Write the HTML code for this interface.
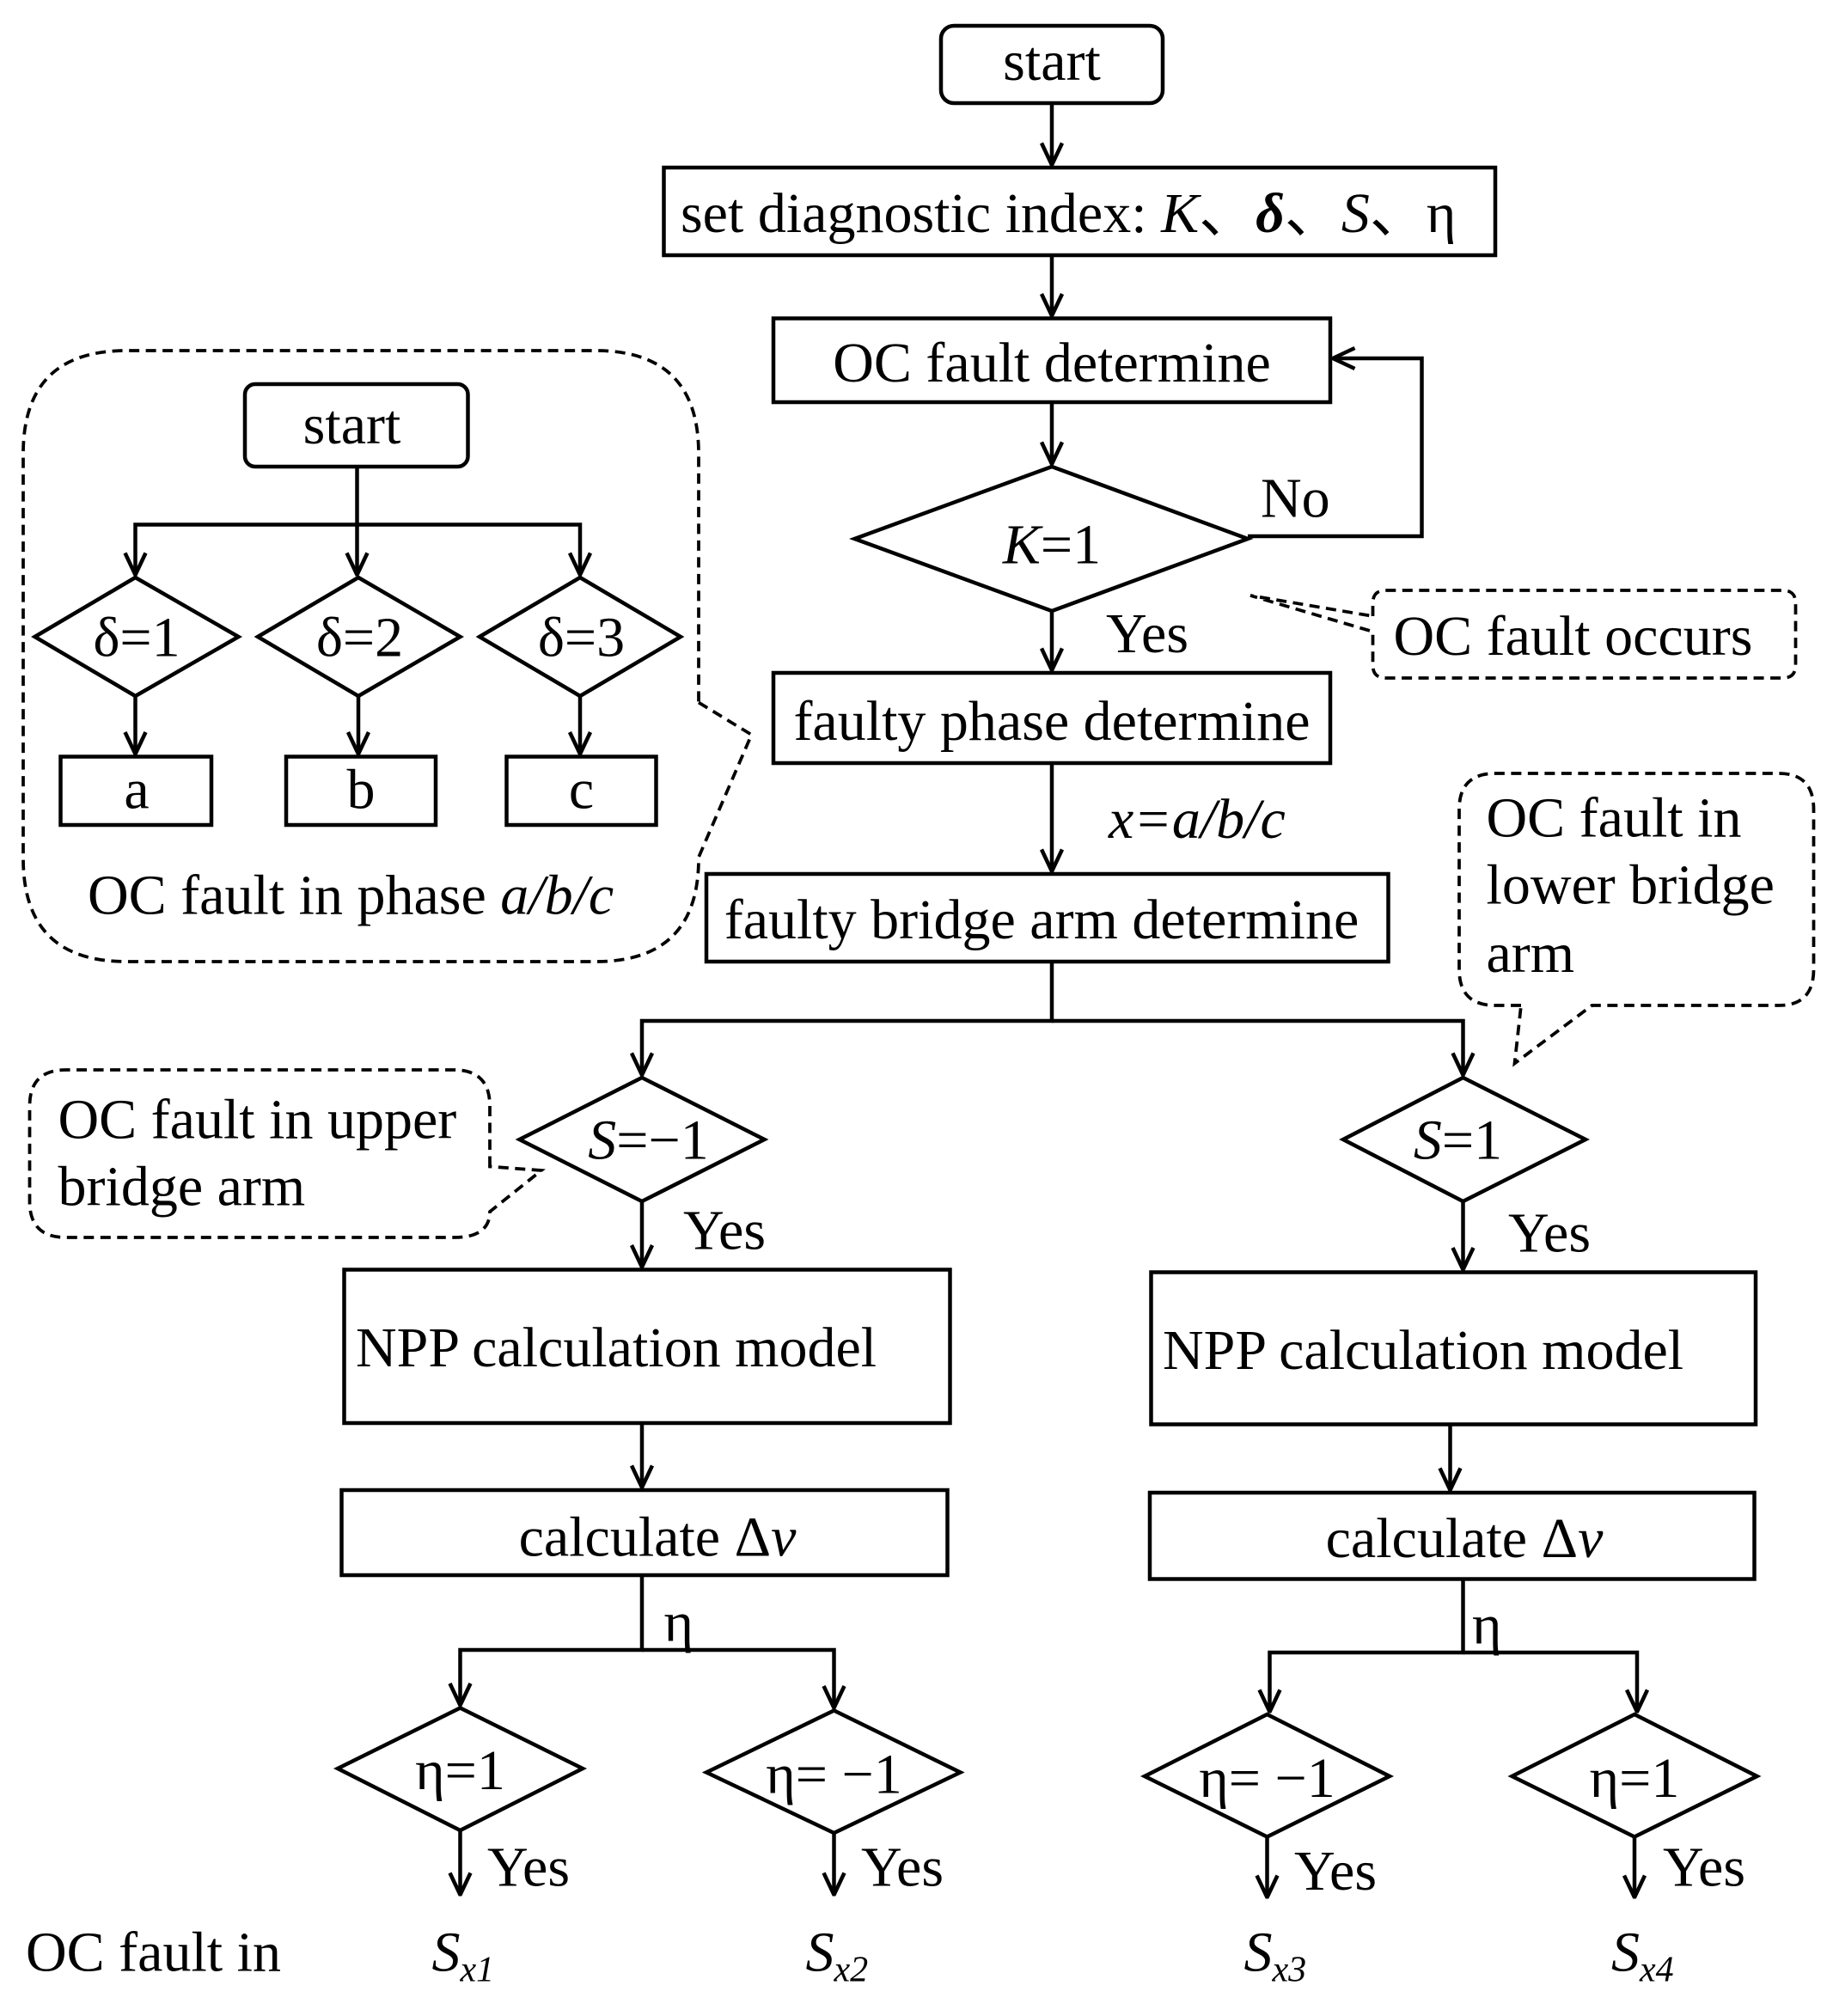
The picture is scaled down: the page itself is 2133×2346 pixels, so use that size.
<!DOCTYPE html>
<html><head><meta charset="utf-8"><style>html,body{margin:0;padding:0;background:#fff}svg{display:block}</style></head>
<body>
<svg width="2133" height="2346" viewBox="0 0 1422 1564" xmlns="http://www.w3.org/2000/svg" font-family="Liberation Serif, serif" font-size="44" fill="none" stroke="#000" stroke-width="3">
<defs>
<marker id="a" viewBox="0 0 20 20" refX="19" refY="10" markerWidth="20" markerHeight="20" markerUnits="userSpaceOnUse" orient="auto">
<path d="M2,2 L19,10 L2,18" fill="none" stroke="#000" stroke-width="3"/>
</marker>
</defs>
<g>
<rect x="730" y="20" width="172" height="60" rx="10"/>
<rect x="515" y="130" width="645" height="68"/>
<rect x="600" y="247" width="432" height="65"/>
<polygon points="663,418 816,362 968,418 816,474"/>
<rect x="600" y="522" width="432" height="70"/>
<rect x="548" y="678" width="529" height="68"/>
<polygon points="403,884 498,836 593,884 498,932"/>
<polygon points="1042,884 1135,836 1230,884 1135,932"/>
<rect x="267" y="985" width="470" height="119"/>
<rect x="893" y="987" width="469" height="118"/>
<rect x="265" y="1156" width="470" height="66"/>
<rect x="892" y="1158" width="469" height="67"/>
<polygon points="262,1372 357,1325 452,1372 357,1420"/>
<polygon points="548,1375 647,1327 745,1375 647,1422"/>
<polygon points="888,1378 983,1330 1078,1378 983,1425"/>
<polygon points="1173,1378 1268,1330 1363,1378 1268,1425"/>
<rect x="190" y="298" width="173" height="64" rx="8"/>
<polygon points="27,494 105,448 185,494 105,540"/>
<polygon points="200,494 278,448 357,494 278,540"/>
<polygon points="372,494 450,448 528,494 450,540"/>
<rect x="47" y="587" width="117" height="53"/>
<rect x="222" y="587" width="116" height="53"/>
<rect x="393" y="587" width="116" height="53"/>
</g>
<g marker-end="url(#a)">
<path d="M816,80V128"/><path d="M816,198V245"/><path d="M816,312V360"/>
<path d="M968,416H1103V278H1034"/>
<path d="M816,474V520"/><path d="M816,592V676"/>
<path d="M816,746V792H498V834"/><path d="M816,792H1135V834"/>
<path d="M498,932V983"/><path d="M1135,932V985"/>
<path d="M498,1104V1154"/><path d="M1125,1105V1156"/>
<path d="M498,1222V1280H357V1323"/><path d="M498,1280H647V1325"/>
<path d="M1135,1225V1282H985V1328"/><path d="M1135,1282H1270V1328"/>
<path d="M357,1420V1470"/><path d="M647,1422V1470"/><path d="M983,1425V1472"/><path d="M1268,1425V1472"/>
<path d="M277,362V407H105V446"/><path d="M277,407V446"/><path d="M277,407H450V446"/>
<path d="M105,540V585"/><path d="M278,540V585"/><path d="M450,540V585"/>
</g>
<g stroke-dasharray="8,5" stroke-width="2.5">
<path d="M1065,478 V468 Q1065,458 1075,458 H1383 Q1393,458 1393,468 V516 Q1393,526 1383,526 H1075 Q1065,526 1065,516 V490 L970,462 L1065,478"/>
<path d="M1180,780 H1160 Q1132,780 1132,752 V628 Q1132,600 1160,600 H1380 Q1407,600 1407,628 V752 Q1407,780 1380,780 H1235 L1175,825 Z"/>
<path d="M380,905 V858 Q380,830 352,830 H51 Q23,830 23,858 V932 Q23,960 51,960 H352 Q380,960 380,940 L420,908 Z"/>
<path d="M542,545 L583,570 L542,665 V666 Q542,746 462,746 H98 Q18,746 18,666 V352 Q18,272 98,272 H462 Q542,272 542,352 Z"/>
</g>
<g fill="#000" stroke="none">
<text x="816" y="62" text-anchor="middle">start</text>
<text x="528" y="180">set diagnostic index: <tspan font-style="italic">K</tspan>、<tspan font-style="italic" font-weight="bold">δ</tspan>、<tspan font-style="italic">S</tspan>、η</text>
<text x="816" y="296" text-anchor="middle">OC fault determine</text>
<text x="816" y="437" text-anchor="middle"><tspan font-style="italic">K</tspan>=1</text>
<text x="978" y="401">No</text>
<text x="858" y="506">Yes</text>
<text x="816" y="574" text-anchor="middle">faulty phase determine</text>
<text x="860" y="650" font-style="italic">x=a/b/c</text>
<text x="808" y="728" text-anchor="middle">faulty bridge arm determine</text>
<text x="1081" y="508">OC fault  occurs</text>
<text x="1153" y="649">OC fault in</text>
<text x="1153" y="701">lower bridge</text>
<text x="1153" y="754">arm</text>
<text x="45" y="883">OC fault in upper</text>
<text x="45" y="935">bridge arm</text>
<text x="503" y="899" text-anchor="middle"><tspan font-style="italic">S</tspan>=−1</text>
<text x="1131" y="899" text-anchor="middle"><tspan font-style="italic">S</tspan>=1</text>
<text x="530" y="969">Yes</text>
<text x="1170" y="971">Yes</text>
<text x="276" y="1060">NPP calculation model</text>
<text x="902" y="1062">NPP calculation model</text>
<text x="510" y="1207" text-anchor="middle">calculate Δ<tspan font-style="italic">v</tspan></text>
<text x="1136" y="1208" text-anchor="middle">calculate Δ<tspan font-style="italic">v</tspan></text>
<text x="515" y="1273">η</text>
<text x="1142" y="1275">η</text>
<text x="357" y="1388" text-anchor="middle">η=1</text>
<text x="647" y="1391" text-anchor="middle">η= −1</text>
<text x="983" y="1394" text-anchor="middle">η= −1</text>
<text x="1268" y="1394" text-anchor="middle">η=1</text>
<text x="378" y="1463">Yes</text>
<text x="668" y="1463">Yes</text>
<text x="1004" y="1466">Yes</text>
<text x="1290" y="1463">Yes</text>
<text x="20" y="1529">OC fault in</text>
<text x="335" y="1529" font-style="italic">S<tspan font-size="28" dy="8">x1</tspan></text>
<text x="625" y="1529" font-style="italic">S<tspan font-size="28" dy="8">x2</tspan></text>
<text x="965" y="1529" font-style="italic">S<tspan font-size="28" dy="8">x3</tspan></text>
<text x="1250" y="1529" font-style="italic">S<tspan font-size="28" dy="8">x4</tspan></text>
<text x="273" y="344" text-anchor="middle">start</text>
<text x="106" y="509" text-anchor="middle">δ=1</text>
<text x="279" y="509" text-anchor="middle">δ=2</text>
<text x="451" y="509" text-anchor="middle">δ=3</text>
<text x="106" y="627" text-anchor="middle">a</text>
<text x="280" y="627" text-anchor="middle">b</text>
<text x="451" y="627" text-anchor="middle">c</text>
<text x="68" y="709">OC fault in phase <tspan font-style="italic">a/b/c</tspan></text>
</g>
</svg>
</body></html>
